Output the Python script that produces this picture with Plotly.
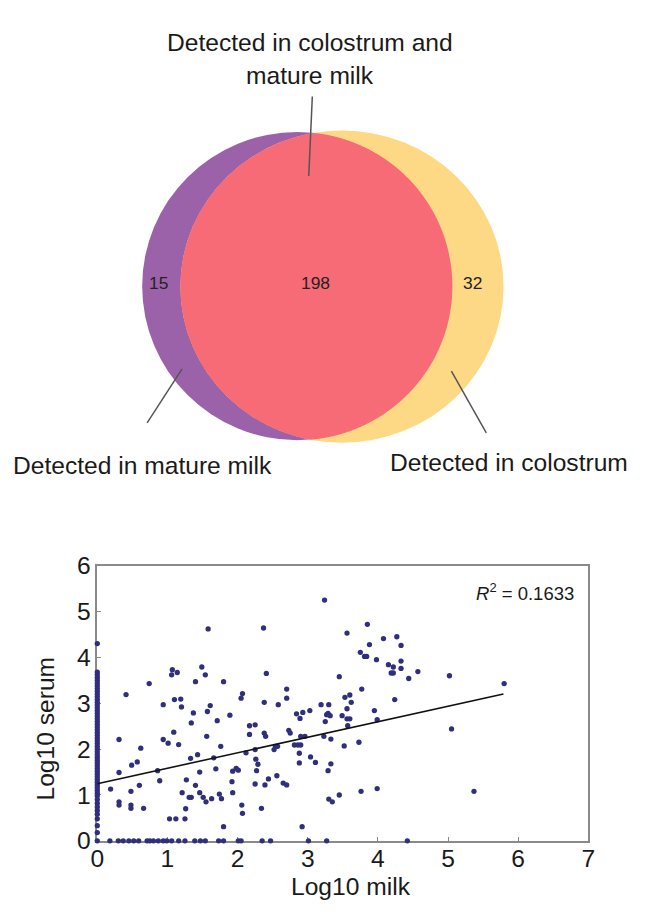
import numpy as np
import plotly.graph_objects as go

# ---------------- Venn data ----------------
venn_counts = {"mature_only": 15, "both": 198, "colostrum_only": 32}
venn_labels = ["Detected in colostrum and", "mature milk", "Detected in mature milk", "Detected in colostrum"]

# ---------------- Scatter data (log10 milk, log10 serum) ----------------
# points lying on the y axis (milk = 0)
serum_at_zero_milk = [4.30, 3.68, 3.62, 3.56, 3.50, 3.44, 3.38, 3.32, 3.26, 3.20, 3.14, 3.08, 3.02,
                      2.96, 2.90, 2.84, 2.78, 2.72, 2.66, 2.60, 2.54, 2.48, 2.42, 2.36, 2.30, 2.24,
                      2.18, 2.12, 2.06, 2.00, 1.94, 1.88, 1.82, 1.76, 1.70, 1.64, 1.58, 1.52, 1.46,
                      1.40, 1.34, 1.28, 1.22, 1.16, 1.10, 1.04, 0.98, 0.90, 0.82, 0.74, 0.66, 0.58,
                      0.48, 0.33, 0.18, 0.0]
# points lying on the x axis (serum = 0)
milk_at_zero_serum = [0.18, 0.30, 0.37, 0.45, 0.52, 0.59, 0.71, 0.75, 0.80, 0.87, 0.94, 0.99, 1.06,
                      1.16, 1.25, 1.39, 1.47, 1.54, 1.73, 1.80, 2.01, 2.05, 2.35, 2.47, 3.01, 3.27, 4.42]
# remaining points
milk_vals = [0.19, 0.31, 0.31, 0.31, 0.31, 0.41, 0.48, 0.48, 0.48, 0.49, 0.57, 0.60, 0.62, 0.66, 0.74,
             0.86, 0.89, 0.94, 0.94, 1.01,
             1.03, 1.12, 1.07, 1.06, 1.14, 1.09, 1.16, 1.20, 1.10, 1.19, 1.25, 1.26, 1.21, 1.27, 1.31,
             1.34, 1.33, 1.34, 1.37, 1.40, 1.40, 1.43, 1.46, 1.46, 1.49, 1.51, 1.54, 1.55, 1.56, 1.57,
             1.58, 1.61, 1.63, 1.66, 1.69, 1.71, 1.74, 1.76, 1.77, 1.80, 1.80, 1.89, 1.92, 1.93, 1.93,
             1.98, 2.01,
             2.06, 2.07, 2.07, 2.05, 2.17, 2.25, 2.17, 2.26, 2.25, 2.29, 2.27, 2.25, 2.12, 2.34, 2.38,
             2.37, 2.38, 2.40, 2.39, 2.41, 2.44, 2.52, 2.54, 2.57, 2.56, 2.58, 2.65, 2.70, 2.70, 2.70,
             2.73, 2.75, 2.81, 2.86, 2.90, 2.84, 2.93, 2.89, 2.88, 2.88, 2.90, 2.96, 2.92,
             3.03, 3.04, 3.11, 3.19, 3.23, 3.24, 3.25, 3.27, 3.29, 3.32, 3.30, 3.33, 3.33, 3.29, 3.30,
             3.35, 3.45, 3.45, 3.49, 3.52, 3.53, 3.56, 3.56, 3.56, 3.60, 3.57, 3.60, 3.62, 3.73, 3.75,
             3.76, 3.77, 3.81, 3.84, 3.85, 3.88, 3.95, 3.98, 3.99, 3.99,
             4.08, 4.15, 4.22, 4.19, 4.22, 4.24, 4.27, 4.33, 4.33, 4.33, 4.44, 4.57, 5.02, 5.05, 5.37,
             5.80]
serum_vals = [1.13, 2.21, 1.49, 0.85, 0.78, 3.19, 1.08, 0.78, 0.71, 1.65, 1.72, 1.21, 2.02, 0.71, 3.43,
              1.53, 1.31, 2.97, 2.21, 2.13,
              0.48, 0.48, 3.73, 3.62, 3.67, 2.37, 2.10, 2.92, 3.08, 3.09, 0.48, 0.70, 1.05, 1.33, 0.95,
              0.95, 1.80, 2.57, 2.79, 1.21, 3.47, 1.88, 1.50, 1.05, 3.79, 0.95, 3.62, 0.85, 2.28, 2.82,
              4.62, 2.95, 0.92, 1.81, 1.57, 2.62, 1.02, 2.06, 0.92, 3.47, 0.31, 2.74, 1.29, 1.05, 1.52,
              1.58, 1.54,
              0.78, 0.60, 3.21, 3.11, 2.51, 2.53, 2.32, 1.78, 1.24, 1.67, 1.53, 1.99, 1.92, 0.71, 3.02,
              4.64, 2.35, 2.28, 1.22, 3.65, 1.35, 1.99, 2.06, 2.06, 1.42, 2.97, 1.26, 1.22, 3.31, 3.11,
              2.41, 2.35, 2.09, 2.09, 2.09, 2.77, 2.80, 2.67, 1.91, 1.70, 2.28, 2.28, 0.31,
              2.84, 1.83, 1.71, 2.97, 2.28, 5.25, 2.60, 2.75, 2.78, 2.73, 2.97, 2.22, 1.68, 1.53, 0.91,
              0.85, 1.00, 3.58, 2.73, 2.07, 3.13, 4.53, 2.88, 2.66, 2.66, 2.51, 3.18, 3.02, 2.15, 4.11,
              1.08, 3.31, 4.02, 4.02, 4.72, 4.28, 2.84, 3.95, 2.64, 1.14,
              4.41, 3.84, 3.79, 3.66, 3.66, 3.08, 4.45, 4.26, 3.92, 3.76, 3.54, 3.69, 3.60, 2.44, 1.08,
              3.43]
trend_x = [0.0, 5.79]
trend_y = [1.245, 3.20]
r2_text = "<i>R</i><sup>2</sup> = 0.1633"
x_ticks = [0, 1, 2, 3, 4, 5, 6, 7]
y_ticks = [0, 1, 2, 3, 4, 5, 6]

FONT = "Liberation Sans, Arial, sans-serif"
W, H = 651, 924

# layout compensation: the captured picture is slightly shrunk around its centre,
# so positions are pre-expanded to land where the reference has them
KX, CX = 0.981, 325.5
KY, CY = 0.970, 460.0
KF = 0.975


def X(p):
    return CX + (p - CX) / KX


def Y(p):
    return CY + (p - CY) / KY


def fs(s):
    return round(s / KF, 1)


all_x = [0.0] * len(serum_at_zero_milk) + milk_at_zero_serum + milk_vals
all_y = serum_at_zero_milk + [0.0] * len(milk_at_zero_serum) + serum_vals

fig = go.Figure()

fig.add_trace(go.Scatter(
    x=all_x, y=all_y, mode="markers", cliponaxis=False,
    marker=dict(size=5.3, color="#2f2f7c"), showlegend=False,
    xaxis="x", yaxis="y"))
fig.add_trace(go.Scatter(
    x=trend_x, y=trend_y, mode="lines", line=dict(color="#111111", width=1.6),
    showlegend=False, xaxis="x", yaxis="y"))

# ---------------- Venn geometry (reference-pixel coordinates on hidden axes) ----------------
VENN_H = 520.0
cxp, cyp, rxp, ryp = 297.2, 286.7, 155.5, 154.0   # mature milk
cxy, cyy, rxy, ryy = 342.0, 287.2, 162.0, 156.0   # colostrum

t = np.linspace(-np.pi, np.pi, 1441)
px, py = cxp + rxp * np.cos(t), cyp + ryp * np.sin(t)
inside_y = ((px - cxy) / rxy) ** 2 + ((py - cyy) / ryy) ** 2 <= 1
t2 = np.linspace(0, 2 * np.pi, 1441)
qx, qy = cxy + rxy * np.cos(t2), cyy + ryy * np.sin(t2)
inside_p = ((qx - cxp) / rxp) ** 2 + ((qy - cyp) / ryp) ** 2 <= 1
lens_x = np.concatenate([px[inside_y], qx[inside_p]])
lens_y = np.concatenate([py[inside_y], qy[inside_p]])
lens_path = "M " + " L ".join(f"{a:.2f},{b:.2f}" for a, b in zip(lens_x, lens_y)) + " Z"

shapes = [
    dict(type="circle", xref="x2", yref="y2", x0=cxp - rxp, x1=cxp + rxp, y0=cyp - ryp, y1=cyp + ryp,
         fillcolor="#9c62a9", line=dict(width=0)),
    dict(type="circle", xref="x2", yref="y2", x0=cxy - rxy, x1=cxy + rxy, y0=cyy - ryy, y1=cyy + ryy,
         fillcolor="#fdd985", line=dict(width=0)),
    dict(type="path", xref="x2", yref="y2", path=lens_path, fillcolor="#f76b77", line=dict(width=0)),
    dict(type="line", xref="x2", yref="y2", x0=312.3, y0=97.3, x1=308.7, y1=176.7,
         line=dict(color="#555555", width=1.5)),
    dict(type="line", xref="x2", yref="y2", x0=146.7, y0=423.3, x1=181.7, y1=369.3,
         line=dict(color="#555555", width=1.5)),
    dict(type="line", xref="x2", yref="y2", x0=451.7, y0=371.7, x1=486.7, y1=433.3,
         line=dict(color="#555555", width=1.5)),
]

big = dict(size=fs(24), color="#1a1a1a", family=FONT)
num = dict(size=fs(17), color="#222222", family=FONT)
annotations = [
    dict(x=310, y=43, xref="x2", yref="y2", text=venn_labels[0], showarrow=False,
         font=big, xanchor="center", yanchor="middle"),
    dict(x=310, y=76, xref="x2", yref="y2", text=venn_labels[1], showarrow=False,
         font=big, xanchor="center", yanchor="middle"),
    dict(x=141.8, y=466, xref="x2", yref="y2", text=venn_labels[2], showarrow=False,
         font=big, xanchor="center", yanchor="middle"),
    dict(x=509, y=463, xref="x2", yref="y2", text=venn_labels[3], showarrow=False,
         font=big, xanchor="center", yanchor="middle"),
    dict(x=158.3, y=283.3, xref="x2", yref="y2", text=str(venn_counts["mature_only"]), showarrow=False,
         font=num, xanchor="center", yanchor="middle"),
    dict(x=315.7, y=283.3, xref="x2", yref="y2", text=str(venn_counts["both"]), showarrow=False,
         font=num, xanchor="center", yanchor="middle"),
    dict(x=472.7, y=283.3, xref="x2", yref="y2", text=str(venn_counts["colostrum_only"]), showarrow=False,
         font=num, xanchor="center", yanchor="middle"),
    # scatter labels
    dict(x=X(577) / W, y=1 - Y(592) / H, xref="paper", yref="paper", text=r2_text, showarrow=False,
         font=dict(size=fs(18), color="#1a1a1a", family=FONT), xanchor="right", yanchor="middle"),
    dict(x=X(351) / W, y=1 - Y(887) / H, xref="paper", yref="paper", text="Log10 milk", showarrow=False,
         font=big, xanchor="center", yanchor="middle"),
    dict(x=X(45) / W, y=1 - Y(729) / H, xref="paper", yref="paper", text="Log10 serum", showarrow=False,
         textangle=-90, font=big, xanchor="center", yanchor="middle"),
]

axis_common = dict(showline=True, linecolor="#8a8a8a", linewidth=1.5, mirror=True,
                   ticks="inside", ticklen=4, tickcolor="#8a8a8a", tickwidth=1,
                   showgrid=False, zeroline=False, layer="below traces",
                   tickfont=dict(size=fs(24), color="#1a1a1a", family=FONT))

# Venn axes ranges so that reference pixel p lands on layout pixel X(p) / Y(p)
x2_range = [CX * (1 - KX), CX * (1 - KX) + W * KX]
y2_range = [CY + (VENN_H - CY) * KY, CY * (1 - KY)]

fig.update_layout(
    width=W, height=H, autosize=False,
    margin=dict(l=0, r=0, t=0, b=0),
    paper_bgcolor="white", plot_bgcolor="white",
    font=dict(family=FONT),
    xaxis=dict(domain=[X(96.7) / W, X(589) / W], range=[0, 7], tickvals=x_ticks, anchor="y",
               ticklabelstandoff=-5, **axis_common),
    yaxis=dict(domain=[1 - Y(841) / H, 1 - Y(566) / H], range=[0, 6], tickvals=y_ticks, anchor="x",
               **axis_common),
    xaxis2=dict(domain=[0, 1], range=x2_range, visible=False, anchor="y2"),
    yaxis2=dict(domain=[1 - VENN_H / H, 1], range=y2_range, visible=False, anchor="x2"),
    shapes=shapes, annotations=annotations,
)

fig.write_html(
    "out.html",
    config={"displayModeBar": False},
    post_script="document.body.style.margin='0';document.body.style.padding='0';"
                "document.documentElement.style.overflow='hidden';",
)
